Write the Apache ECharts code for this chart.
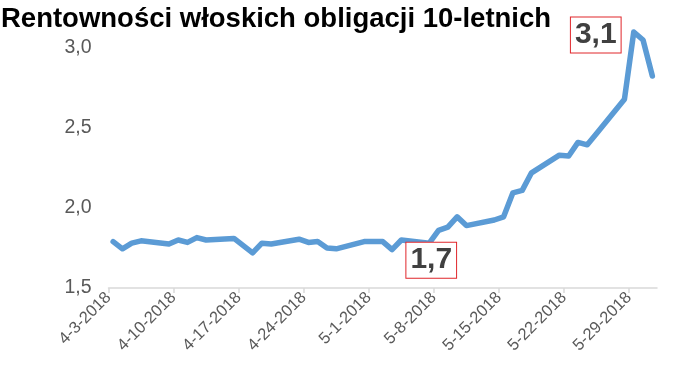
<!DOCTYPE html>
<html>
<head>
<meta charset="utf-8">
<script src="https://cdn.jsdelivr.net/npm/echarts@6/dist/echarts.min.js"></script>
<style>
html,body{margin:0;padding:0;background:#fff;}
#chart{width:700px;height:368px;}
</style>
</head>
<body>
<div id="chart"></div>
<script>
// Trading days (M-D-YYYY) and 10-year Italian bond yields (%)
var dates = [
  '4-3-2018','4-4-2018','4-5-2018','4-6-2018',
  '4-9-2018','4-10-2018','4-11-2018','4-12-2018','4-13-2018',
  '4-16-2018','4-17-2018','4-18-2018','4-19-2018','4-20-2018',
  '4-23-2018','4-24-2018','4-25-2018','4-26-2018','4-27-2018',
  '4-30-2018','5-1-2018','5-2-2018','5-3-2018','5-4-2018',
  '5-7-2018','5-8-2018','5-9-2018','5-10-2018','5-11-2018',
  '5-14-2018','5-15-2018','5-16-2018','5-17-2018','5-18-2018',
  '5-21-2018','5-22-2018','5-23-2018','5-24-2018','5-25-2018',
  '5-28-2018','5-29-2018','5-30-2018','5-31-2018'
];
var yields = [
  1.79, 1.745, 1.78, 1.795,
  1.775, 1.80, 1.785, 1.815, 1.80,
  1.81, 1.765, 1.72, 1.78, 1.775,
  1.805, 1.785, 1.79, 1.75, 1.745,
  1.79, 1.79, 1.79, 1.74, 1.80,
  1.78, 1.86, 1.88, 1.945, 1.89,
  1.925, 1.945, 2.095, 2.11, 2.22,
  2.33, 2.325, 2.41, 2.395, 2.465,
  2.68, 3.10, 3.05, 2.825
];
var axisStart = '4-3-2018';
var axisEnd = '6-1-2018';
var tickLabels = ['4-3-2018','4-10-2018','4-17-2018','4-24-2018','5-1-2018','5-8-2018','5-15-2018','5-22-2018','5-29-2018'];
var yTicks = [1.5, 2.0, 2.5, 3.0];
var annotations = [
  {date: '5-7-2018', text: '1,7', offset: [2, 17]},
  {date: '5-29-2018', text: '3,1', offset: [-38, 3]}
];

function dayOf(s) {
  var p = s.split('-');
  return Date.UTC(+p[2], +p[0] - 1, +p[1]) / 86400000;
}
var d0 = dayOf(axisStart);
function xOf(s) { return dayOf(s) - d0 + 0.5; }

var seriesData = dates.map(function (d, i) { return [xOf(d), yields[i]]; });
var tickVals = tickLabels.map(function (t) { return dayOf(t) - d0; });

var markData = annotations.map(function (a) {
  var i = dates.indexOf(a.date);
  return {
    coord: [xOf(a.date), yields[i]],
    label: {offset: a.offset, formatter: a.text}
  };
});

var chart = echarts.init(document.getElementById('chart'), null, {renderer: 'canvas'});
chart.setOption({
  animation: false,
  backgroundColor: '#fff',
  title: {
    text: 'Rentowności włoskich obligacji 10-letnich',
    left: 1, top: 5,
    padding: 0,
    textStyle: {fontFamily: 'Liberation Sans', fontWeight: 'bold', fontSize: 27.5, color: '#000'}
  },
  grid: {left: 108.5, right: 43, top: 16, bottom: 80},
  xAxis: {
    type: 'value',
    min: 0,
    max: dayOf(axisEnd) - d0,
    interval: 7,
    axisLine: {show: true, lineStyle: {color: '#D9D9D9', width: 1.5}},
    axisTick: {show: true, customValues: tickVals, length: 5, lineStyle: {color: '#D9D9D9', width: 1.5}},
    splitLine: {show: false},
    axisLabel: {
      customValues: tickVals,
      rotate: 45,
      margin: 7,
      color: '#595959',
      fontFamily: 'Liberation Sans',
      fontSize: 16.5,
      formatter: function (v) { return tickLabels[tickVals.indexOf(v)] || ''; }
    }
  },
  yAxis: {
    type: 'value',
    min: 1.5,
    max: 3.2,
    interval: 0.5,
    axisLine: {show: false},
    axisTick: {show: false},
    splitLine: {show: false},
    axisLabel: {
      customValues: yTicks,
      margin: 17,
      color: '#595959',
      fontFamily: 'Liberation Sans',
      fontSize: 19.5,
      formatter: function (v) { return v.toFixed(1).replace('.', ','); }
    }
  },
  series: [{
    type: 'line',
    data: seriesData,
    showSymbol: false,
    symbol: 'none',
    lineStyle: {color: '#5B9BD5', width: 5.5, cap: 'round', join: 'round'},
    markPoint: {
      symbol: 'rect',
      symbolSize: 0,
      silent: true,
      label: {
        show: true,
        position: 'inside',
        color: '#404040',
        fontFamily: 'Liberation Sans',
        fontWeight: 'bold',
        fontSize: 30,
        lineHeight: 30,
        backgroundColor: '#fff',
        borderColor: '#E0262B',
        borderWidth: 1,
        padding: [3, 4, 2, 4]
      },
      data: markData
    }
  }]
});
</script>
</body>
</html>
